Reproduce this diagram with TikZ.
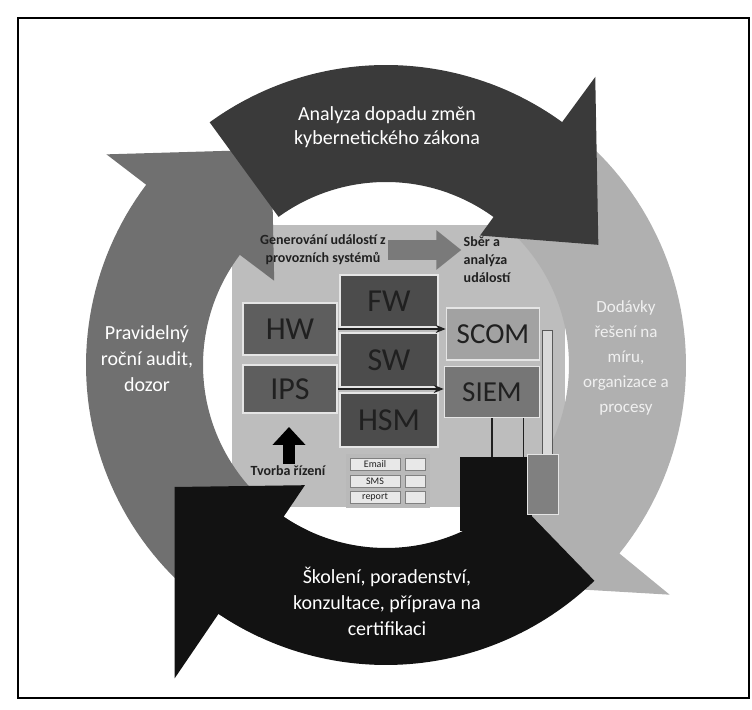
\documentclass[tikz,border=0pt]{standalone}
\usepackage{fontspec}
\setmainfont{Carlito}
\usetikzlibrary{arrows.meta}
\definecolor{ringdark}{HTML}{3A3A3A}
\definecolor{ringblack}{HTML}{121212}
\definecolor{ringgray}{HTML}{707070}
\definecolor{ringlight}{HTML}{B0B0B0}
\definecolor{panelc}{HTML}{BDBDBD}
\definecolor{boxhw}{HTML}{5E5E5E}
\definecolor{boxfw}{HTML}{4C4C4C}
\definecolor{boxscom}{HTML}{A2A2A2}
\definecolor{boxsiem}{HTML}{767676}
\definecolor{inkdark}{HTML}{202020}
\definecolor{flowgray}{HTML}{7A7A7A}

% curved ring arrow: tail angle, head angle, tip angle, outer/inner barb radius, colour
\newcommand{\ringarrow}[6]{%
  \fill[#6] plot[domain=0:1,samples=60] ({(#1)+((#2)-(#1))*\x}:300)
    -- (#2:#4) -- (#3:244) -- (#2:#5)
    -- plot[domain=0:1,samples=60] ({(#2)+((#1)-(#2))*\x}:183) -- cycle;}

\begin{document}
\begin{tikzpicture}[x=0.5pt,y=-0.5pt,
  ringtext/.style={text=white, align=center, inner sep=0pt},
  unit/.style={draw=white!80!gray, line width=0.8pt, inner sep=0pt, text=inkdark},
  bigunit/.style={unit, font=\fontsize{16}{16}\selectfont},
  smallunit/.style={unit, font=\fontsize{14.5}{14.5}\selectfont},
  tag/.style={font=\bfseries\fontsize{7}{9}\selectfont, text=inkdark, align=center, inner sep=1pt},
  feed/.style={draw=inkdark, line width=0.8pt, -{Stealth[length=5pt,width=4pt]}},
  cell/.style={fill=white!82!gray, draw=gray, line width=0.4pt, inner sep=0pt,
    font=\fontsize{5}{5}\selectfont, text=inkdark},
]
\useasboundingbox (0,0) rectangle (752,710);
\fill[white] (0,0) rectangle (752,710);

% background panel of the monitored environment
\fill[panelc] (232,225) rectangle (565,507);

% the four ring arrows
\begin{scope}[shift={(386,365)}, yscale=-1]
  \ringarrow{245}{143}{118}{350}{140}{ringgray}
  \ringarrow{70}{-39}{-64}{365}{145}{ringlight}
  \ringarrow{-46}{-124}{-150}{378}{145}{ringblack}
  \ringarrow{126}{54}{29.5}{356}{160}{ringdark}
\end{scope}

% ring captions
\node[ringtext, font=\fontsize{10}{12}\selectfont] (tA) at (387,127)
  {Analyza dopadu změn\\kybernetického zákona};
\node[ringtext, font=\fontsize{10}{13}\selectfont] (tB) at (147,359)
  {Pravidelný\\roční audit,\\dozor};
\node[ringtext, text=white!88!gray, font=\fontsize{8.5}{12.5}\selectfont] (tC) at (626,358)
  {Dodávky\\řešení na\\míru,\\organizace a\\procesy};
\node[ringtext, font=\fontsize{10}{13}\selectfont] (tD) at (387,601)
  {Školení, poradenství,\\konzultace, příprava na\\certifikaci};

% event sources and collectors
\node[bigunit, fill=boxhw, minimum width=47pt, minimum height=26pt] (hw) at (290,329) {HW};
\node[bigunit, fill=boxhw, minimum width=47pt, minimum height=24pt] (ips) at (290,389) {IPS};
\node[bigunit, fill=boxfw, minimum width=49pt, minimum height=26pt] (fw) at (389,301) {FW};
\node[bigunit, fill=boxfw, minimum width=49pt, minimum height=27pt] (sw) at (389,360) {SW};
\node[bigunit, fill=boxfw, minimum width=49pt, minimum height=27pt] (hsm) at (389,420) {HSM};
\node[smallunit, fill=boxscom, minimum width=46.5pt, minimum height=26pt] (scom) at (493,334) {SCOM};
\node[smallunit, fill=boxsiem, minimum width=47.5pt, minimum height=25.5pt] (siem) at (492,392) {SIEM};
\node[fill=gray!30, draw=gray!70!black, line width=0.4pt, inner sep=0pt,
  minimum width=5pt, minimum height=62pt] (bus) at (547,392) {};

\draw[feed] (hw.east) -- (hw.east -| scom.west);
\draw[feed] (ips.east) -- (ips.east -| siem.west);

% output block
\node[fill=ringblack, inner sep=0pt, minimum width=36pt, minimum height=37pt] (sink) at (496,494) {};
\node[fill=gray, draw=white!80!gray, line width=0.5pt, inner sep=0pt,
  minimum width=15.5pt, minimum height=30pt] (relay) at (543,485) {};
\draw[inkdark, line width=0.6pt] (siem.south) -- (siem.south |- sink.north);
\draw[inkdark, line width=0.6pt] (siem.-40) -- (siem.-40 |- sink.north);

% notification table
\node[fill=gray!55, inner sep=0pt, minimum width=42pt, minimum height=27pt] (tbl) at (388,481) {};
\node[cell, minimum width=25pt, minimum height=6pt] (m1) at (375,464) {Email};
\node[cell, minimum width=25pt, minimum height=6pt] (m2) at (375,481) {SMS};
\node[cell, minimum width=25pt, minimum height=6pt] (m3) at (375,497) {report};
\node[cell, minimum width=10pt, minimum height=6pt] (r1) at (415,464) {};
\node[cell, minimum width=10pt, minimum height=6pt] (r2) at (415,481) {};
\node[cell, minimum width=10pt, minimum height=6pt] (r3) at (415,497) {};

% control feedback
\node[tag] (tvorba) at (288,471) {Tvorba řízení};
\coordinate (uptip) at (289,427);
\draw[black, line width=6pt, -{Triangle[length=9pt,width=16pt]}] (tvorba.north -| uptip) -- (uptip);

% event generation and collection
\node[tag] (gen) at (323,250) {Generování událostí z\\provozních systémů};
\node[tag, align=left] (sber) at (487,260) {Sběr a\\analýza\\událostí};
\draw[flowgray, line width=10pt, -{Triangle[length=12.5pt,width=19pt]}]
  (gen.east) -- (gen.east -| sber.west);

% frame
\draw[line width=0.8pt] (18,18) rectangle (749,698);
\end{tikzpicture}
\end{document}
